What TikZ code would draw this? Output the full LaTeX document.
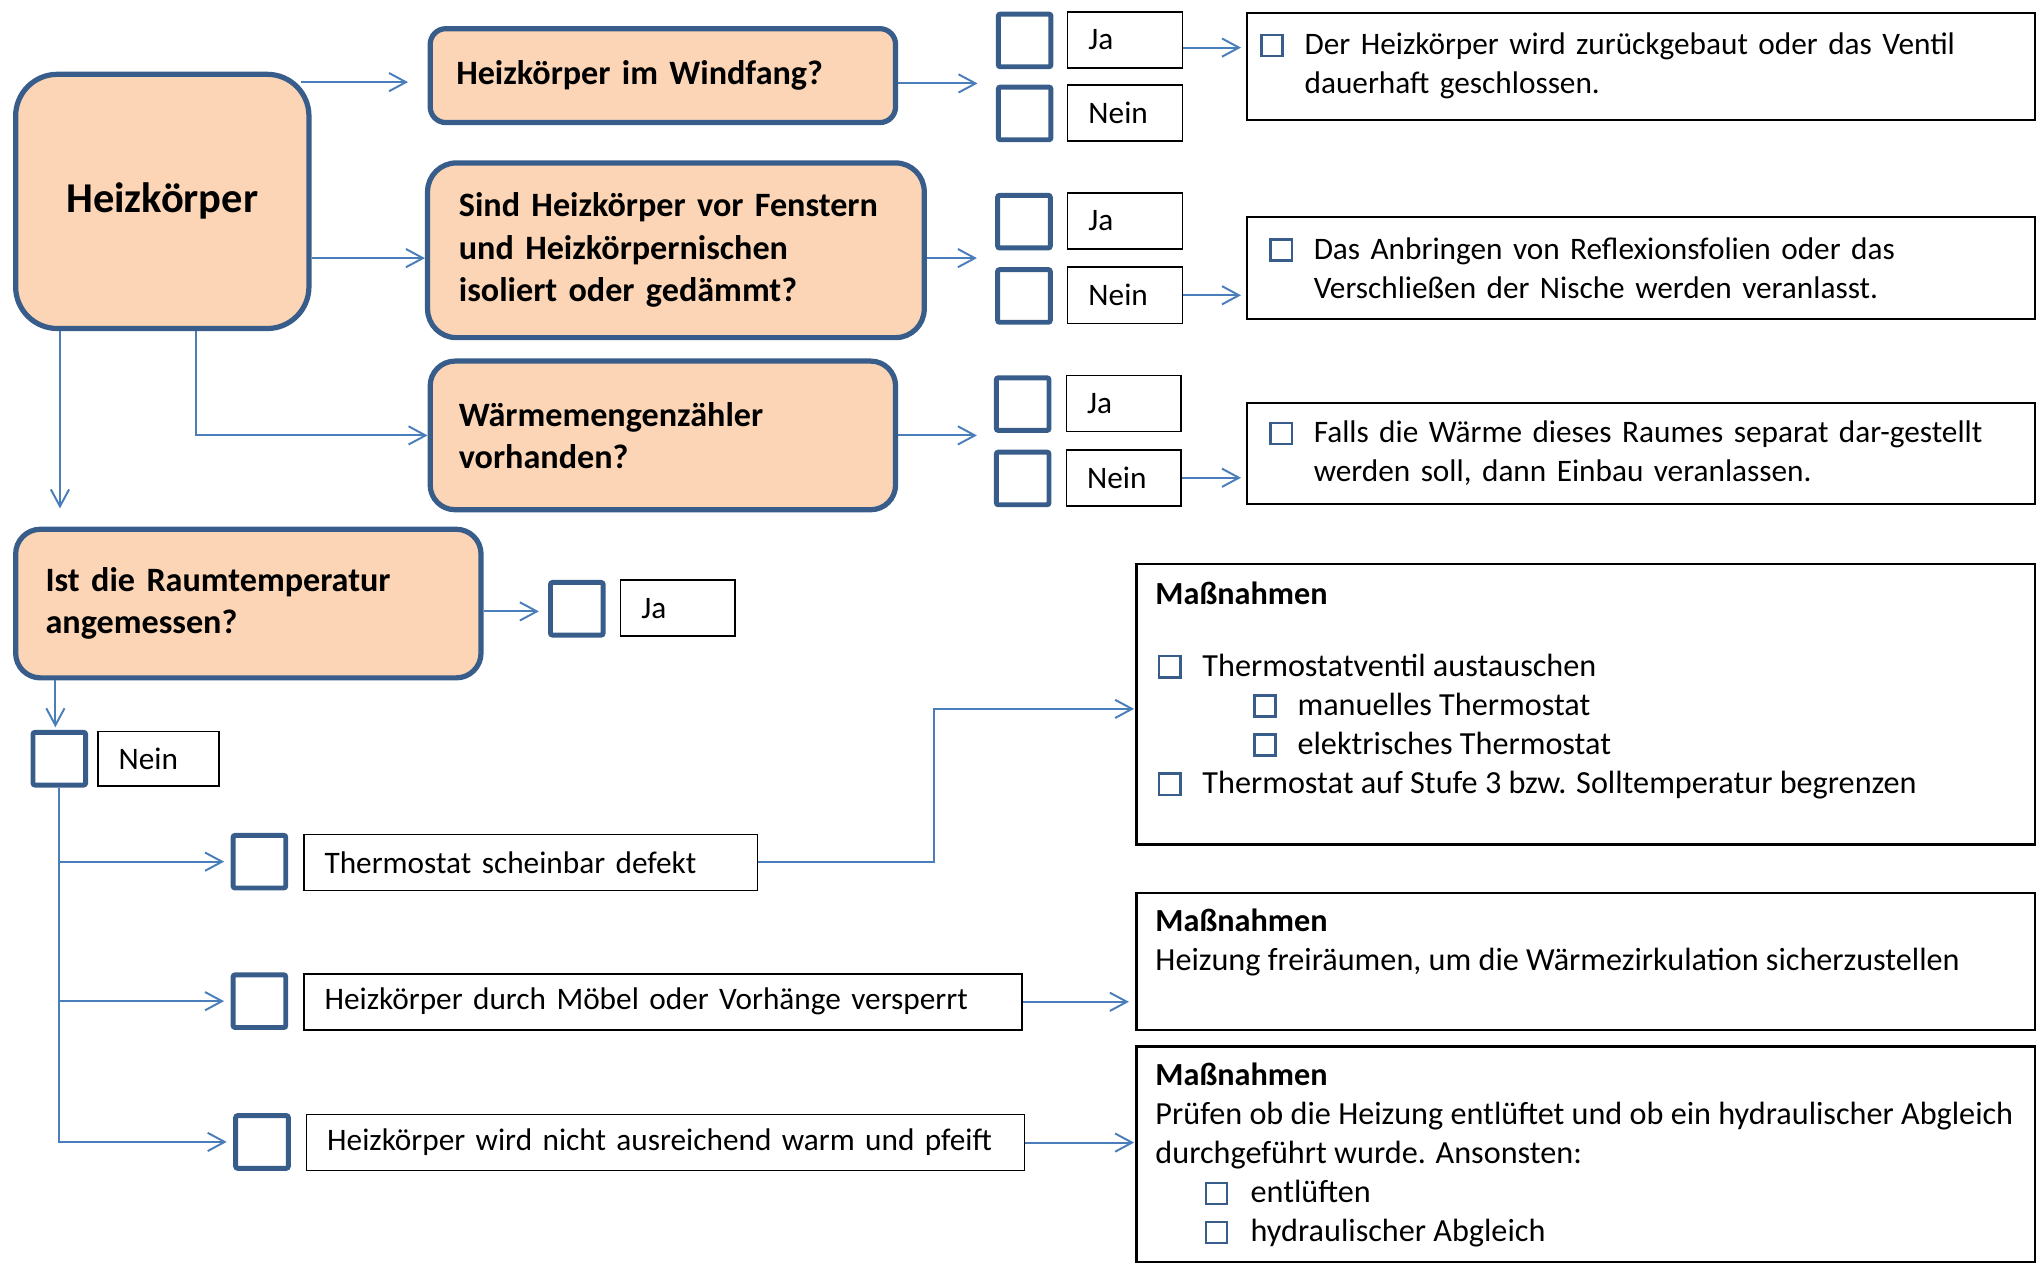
\documentclass[tikz,border=0pt]{standalone}
\usepackage{fontspec}
\setmainfont{Carlito}
\usetikzlibrary{arrows.meta}

\definecolor{peach}{HTML}{FBD5B5}
\definecolor{boxblue}{HTML}{385D8A}
\definecolor{arrowblue}{HTML}{4A7EBB}

% kleines Ankreuzkaestchen im Text
\newcommand{\chkbox}{\textcolor{boxblue}{\setlength{\fboxrule}{0.9bp}\setlength{\fboxsep}{0pt}\fbox{\rule{0pt}{7.2bp}\hspace{7.2bp}}}}

\tikzset{
  frage/.style={draw=boxblue, line width=2bp, fill=peach, align=left, anchor=north west, inner ysep=0pt,
    font=\fontsize{13.1bp}{16.3bp}\selectfont\bfseries},
  kaestchen/.style={draw=boxblue, line width=1.9bp, minimum size=20.2bp, inner sep=0pt, rounded corners=0.8bp},
  antwort/.style={draw=black, line width=0.6bp, minimum height=21.5bp, inner xsep=8bp, inner ysep=0pt, align=left},
  ergebnis/.style={draw=black, line width=0.8bp, anchor=north west, align=left, inner ysep=0pt},
  listentext/.style={anchor=north west, inner sep=0pt, align=left, font=\fontsize{12.35bp}{15bp}\selectfont},
  pfeil/.style={draw=arrowblue, line width=0.75bp, ->},
}

\begin{document}
\begin{tikzpicture}[x=0.5bp, y=-0.5bp, >={Straight Barb[length=6.5bp,width=7bp]},
    font=\fontsize{12bp}{15bp}\selectfont]
    \useasboundingbox (0,0) rectangle (1568,969);
    % Fragen
    \node[frage, text width=88.5bp, inner xsep=12bp, minimum height=97.5bp, rounded corners=16bp,
      align=center, font=\fontsize{16.3bp}{19bp}\selectfont\bfseries] (heiz) at (10,55) {Heizkörper};
    \node[frage, text width=158.5bp, inner xsep=10bp, minimum height=36bp, rounded corners=6bp] (windfang) at (328,20) {Heizkörper im Windfang?};
    \node[frage, text width=166.5bp, inner xsep=12bp, minimum height=67bp, rounded corners=11bp] (fenster) at (326,123) {Sind Heizkörper vor Fenstern\\und Heizkörpernischen\\isoliert oder gedämmt?};
    \node[frage, text width=156.5bp, inner xsep=11bp, minimum height=57bp, rounded corners=9.5bp] (zaehler) at (328,275) {Wärmemengenzähler\\vorhanden?};
    \node[frage, text width=155.5bp, inner xsep=11.5bp, minimum height=57bp, rounded corners=9.5bp] (raumtemp) at (10,404) {Ist die Raumtemperatur\\angemessen?};
    % Ja / Nein
    \node[kaestchen] (ja1) at (786,31) {};
    \node[kaestchen] (nein1) at (786,87) {};
    \node[kaestchen] (ja2) at (785.5,170) {};
    \node[kaestchen] (nein2) at (785.5,227) {};
    \node[kaestchen] (ja3) at (784.5,310) {};
    \node[kaestchen] (nein3) at (784.5,367) {};
    \node[kaestchen] (ja4) at (442.5,467) {};
    \node[kaestchen] (nein4) at (45.5,582) {};
    \node[antwort, text width=28bp] (jal1) at (863,30.5) {Ja};
    \node[antwort, text width=28bp] (nl1) at (863,86.5) {Nein};
    \node[antwort, text width=28bp] (jal2) at (863,169.5) {Ja};
    \node[antwort, text width=28bp] (nl2) at (863,226.5) {Nein};
    \node[antwort, text width=28bp] (jal3) at (862,309.5) {Ja};
    \node[antwort, text width=28bp] (nl3) at (862,366.5) {Nein};
    \node[antwort, text width=28bp] (jal4) at (520,466.5) {Ja};
    \node[antwort, text width=30.5bp, minimum height=21bp] (nl4) at (121.5,582) {Nein};
    % Gruende
    \node[kaestchen] (kdefekt) at (199,661) {};
    \node[kaestchen] (kmoebel) at (199,768) {};
    \node[kaestchen] (kpfeift) at (201,876) {};
    \node[antwort, text width=158bp] (defekt) at (407,661.5) {Thermostat scheinbar defekt};
    \node[antwort, text width=259.5bp] (moebel) at (508.5,768.5) {\mbox{Heizkörper durch Möbel oder Vorhänge versperrt}};
    \node[antwort, text width=259.5bp] (pfeift) at (510.5,876.5) {\mbox{Heizkörper wird nicht ausreichend warm und pfeift}};
    % Ergebnisse
    \node[ergebnis, text width=292bp, inner xsep=5bp, minimum height=41bp] (massn1) at (956,9)
      {\chkbox\hspace{8bp}\parbox[t]{270bp}{Der Heizkörper wird zurückgebaut oder das Ventil\\dauerhaft geschlossen.}};
    \node[ergebnis, text width=285bp, inner xsep=8.5bp, minimum height=39bp] (massn2) at (956,166)
      {\chkbox\hspace{8bp}\parbox[t]{265bp}{Das Anbringen von Reflexionsfolien oder das\\Verschließen der Nische werden veranlasst.}};
    \node[ergebnis, text width=285bp, inner xsep=8.5bp, minimum height=39bp] (massn3) at (956,308)
      {\chkbox\hspace{8bp}\parbox[t]{265bp}{Falls die Wärme dieses Raumes separat dar-gestellt\\werden soll, dann Einbau veranlassen.}};
    % Massnahmen
    \node[ergebnis, minimum width=344.5bp, minimum height=107.5bp] (thermo) at (871,432) {};
    \node[ergebnis, minimum width=344.5bp, minimum height=52.5bp] (freiraeumen) at (871,684) {};
    \node[ergebnis, minimum width=344.5bp, minimum height=82.5bp] (pruefen) at (871,802) {};
    \node[listentext] (thermotext) at ([xshift=7.5bp,yshift=-7bp]thermo.north west)
      {\textbf{Maßnahmen}\\[12.5bp]
       \hspace{1bp}\chkbox\hspace{8bp}Thermostatventil austauschen\\
       \hspace{37.5bp}\chkbox\hspace{8bp}manuelles Thermostat\\
       \hspace{37.5bp}\chkbox\hspace{8bp}elektrisches Thermostat\\
       \hspace{1bp}\chkbox\hspace{8bp}Thermostat auf Stufe 3 bzw. Solltemperatur begrenzen};
    \node[listentext] (freitext) at ([xshift=7.5bp,yshift=-6.5bp]freiraeumen.north west)
      {\textbf{Maßnahmen}\\Heizung freiräumen, um die Wärmezirkulation sicherzustellen};
    \node[listentext] (prueftext) at ([xshift=7.5bp,yshift=-6.5bp]pruefen.north west)
      {\textbf{Maßnahmen}\\Prüfen ob die Heizung entlüftet und ob ein hydraulischer Abgleich\\durchgeführt wurde. Ansonsten:\\
       \hspace{19bp}\chkbox\hspace{8.5bp}entlüften\\
       \hspace{19bp}\chkbox\hspace{8.5bp}hydraulischer Abgleich};
    % Pfeile
    \draw[pfeil, shorten >=7.5bp] ([xshift=-4.2bp,yshift=-4bp]heiz.north east) -- ([yshift=-4bp]heiz.north east -| windfang.west);
    \draw[pfeil] ([yshift=-3bp]fenster.west -| heiz.east) -- ([yshift=-3bp]fenster.west);
    \draw[pfeil] ([xshift=12.75bp]heiz.south) |- (zaehler.west);
    \draw[pfeil, shorten >=7bp] ([xshift=-39.25bp]heiz.south) -- ([xshift=-39.25bp]heiz.south |- raumtemp.north);
    \draw[pfeil, shorten >=7bp] ([yshift=-3bp]windfang.east) -- ([yshift=-3bp]windfang.east -| ja1.west);
    \draw[pfeil, shorten >=7bp] ([yshift=-3bp]fenster.east) -- ([yshift=-3bp]fenster.east -| ja2.west);
    \draw[pfeil, shorten >=6.5bp] (zaehler.east) -- (zaehler.east -| ja3.west);
    \draw[pfeil, shorten >=3.5bp] ([yshift=-3bp]raumtemp.east) -- ([yshift=-3bp]raumtemp.east -| ja4.west);
    \draw[pfeil, shorten >=1bp] ([xshift=-1.5bp]nein4.north |- raumtemp.south) -- ([xshift=-1.5bp]nein4.north);
    \draw[pfeil, shorten >=2bp] ([yshift=-3bp]jal1.east) -- ([yshift=-3bp]jal1.east -| massn1.west);
    \draw[pfeil, shorten >=2bp] (nl2.east) -- (nl2.east -| massn2.west);
    \draw[pfeil, shorten >=2bp] (nl3.east) -- (nl3.east -| massn3.west);
    \draw[pfeil, shorten >=2.5bp] (nein4.south) |- (kdefekt.west);
    \draw[pfeil, shorten >=2.5bp] (nein4.south) |- (kmoebel.west);
    \draw[pfeil, shorten >=2.5bp] (nein4.south) |- (kpfeift.west);
    \draw[pfeil, shorten >=0.5bp] (defekt.east) -- ++(67.5bp,0) |- ([yshift=-1.75bp]thermo.west);
    \draw[pfeil, shorten >=2.5bp] (moebel.east) -- (moebel.east -| freiraeumen.west);
    \draw[pfeil, shorten >=0.5bp] (pfeift.east) -- (pfeift.east -| pruefen.west);
\end{tikzpicture}
\end{document}
